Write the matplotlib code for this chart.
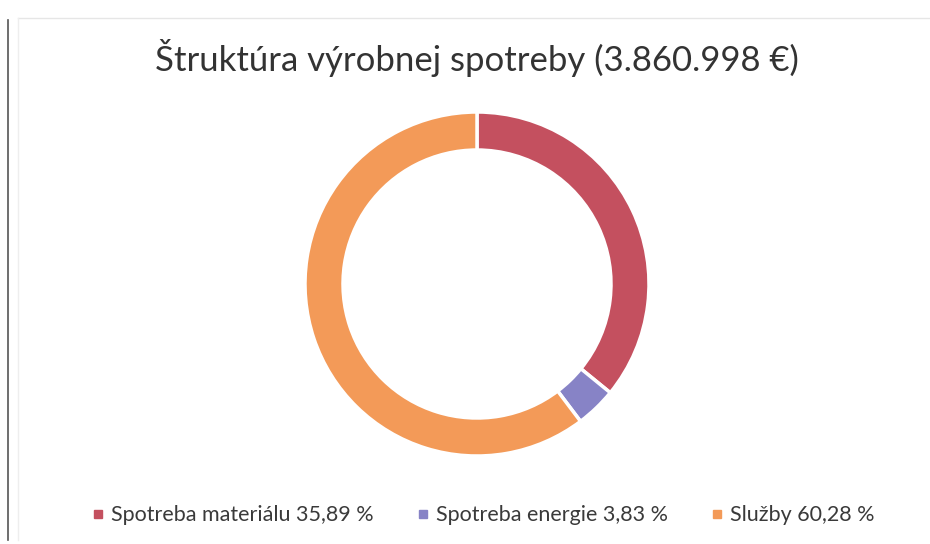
import matplotlib.pyplot as plt
from matplotlib.lines import Line2D

labels = ['Spotreba materiálu 35,89 %', 'Spotreba energie 3,83 %', 'Služby 60,28 %']
shares = [35.89, 3.83, 60.28]
colors = ['#c4505f', '#8783c6', '#f39a58']

plt.rcParams['font.family'] = ['Lato', 'DejaVu Sans']

fig = plt.figure(figsize=(9.3, 5.44), dpi=100)

# donut, pixel coordinates with origin bottom-left
ax = fig.add_axes([0.0, 0.0, 1.0, 1.0])
ax.pie(shares, colors=colors, startangle=90, counterclock=False,
       radius=172, center=(477, 544 - 284),
       wedgeprops=dict(width=38, edgecolor='white', linewidth=2.5))
ax.set_xlim(0, 930)
ax.set_ylim(0, 544)
ax.set_aspect('equal')
ax.axis('off')

# chart frame (scan edges)
ax.plot([8, 8], [4, 524], color='#555555', lw=1.2)
ax.plot([18, 930], [526, 526], color='#e6e6e6', lw=1.0)
ax.plot([18, 18], [4, 526], color='#eeeeee', lw=1.0)

ax.text(477, 544 - 58, 'Štruktúra výrobnej spotreby (3.860.998 €)',
        ha='center', va='center', fontsize=25, color='#333333')

handles = [Line2D([], [], marker='s', linestyle='', markersize=6,
                  markerfacecolor=c, markeredgecolor=c) for c in colors]
fig.legend(handles, labels, loc='center', bbox_to_anchor=(0.517, 0.053),
           ncol=3, frameon=False, fontsize=15.5, handletextpad=0.1,
           handlelength=1.0, columnspacing=1.8, labelcolor='#3a3a3a')

fig.savefig('out.png', dpi=100)
